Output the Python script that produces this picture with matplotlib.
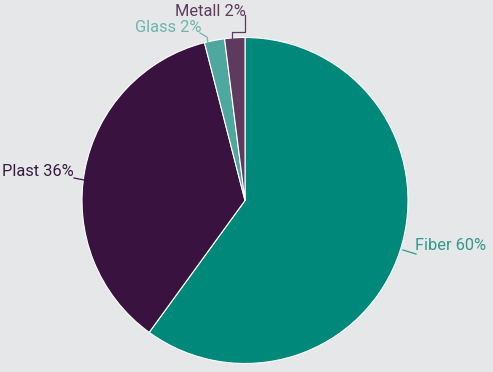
import matplotlib
matplotlib.use('Agg')
import matplotlib.pyplot as plt

labels = ['Fiber', 'Plast', 'Glass', 'Metall']
shares = [60, 36, 2, 2]
colors = ['#00897b', '#3a1240', '#4fa8a0', '#5e3a5e']
label_colors = ['#2f9a8e', '#3a1b40', '#6fb5ad', '#5e3a5e']

W, H = 493, 372
CX, CY, R = 245, 200.5, 163

def px(x, y):
    # pixel position -> data coordinates (pie radius = 1)
    return (x - CX) / R, (CY - y) / R

plt.rcParams['font.family'] = ['Roboto', 'DejaVu Sans']
fig = plt.figure(figsize=(W / 100, H / 100), dpi=100, facecolor='#e6e7e8')
ax = fig.add_axes([0, 0, 1, 1])
ax.set_facecolor('#e6e7e8')

ax.pie(shares, colors=colors, startangle=90, counterclock=False, radius=1,
       wedgeprops=dict(edgecolor='white', linewidth=0.8))
ax.set_aspect('equal', adjustable='datalim')
ax.set_xlim(px(0, 0)[0], px(W, 0)[0])
ax.set_ylim(px(0, H)[1], px(0, 0)[1])
ax.axis('off')

# label text placement and leader lines (pixel space)
text_pos = [(415, 246, 'left'), (2, 172, 'left'), (135, 27, 'left'), (175, 11, 'left')]
leaders = [
    [(403, 250), (416, 254)],
    [(74, 178), (84, 180)],
    [(200, 33), (207, 37), (208, 43)],
    [(245, 15), (245, 32), (232, 32), (232, 38)],
]
for lab, val, c, (tx, ty, ha), pts in zip(labels, shares, label_colors, text_pos, leaders):
    x, y = px(tx, ty)
    ax.text(x, y, f'{lab} {val}%', color=c, fontsize=11.8, ha=ha, va='center')
    xs, ys = zip(*[px(a, b) for a, b in pts])
    ax.plot(xs, ys, color=c, linewidth=0.9)

plt.savefig('out.png', dpi=100, facecolor=fig.get_facecolor())
